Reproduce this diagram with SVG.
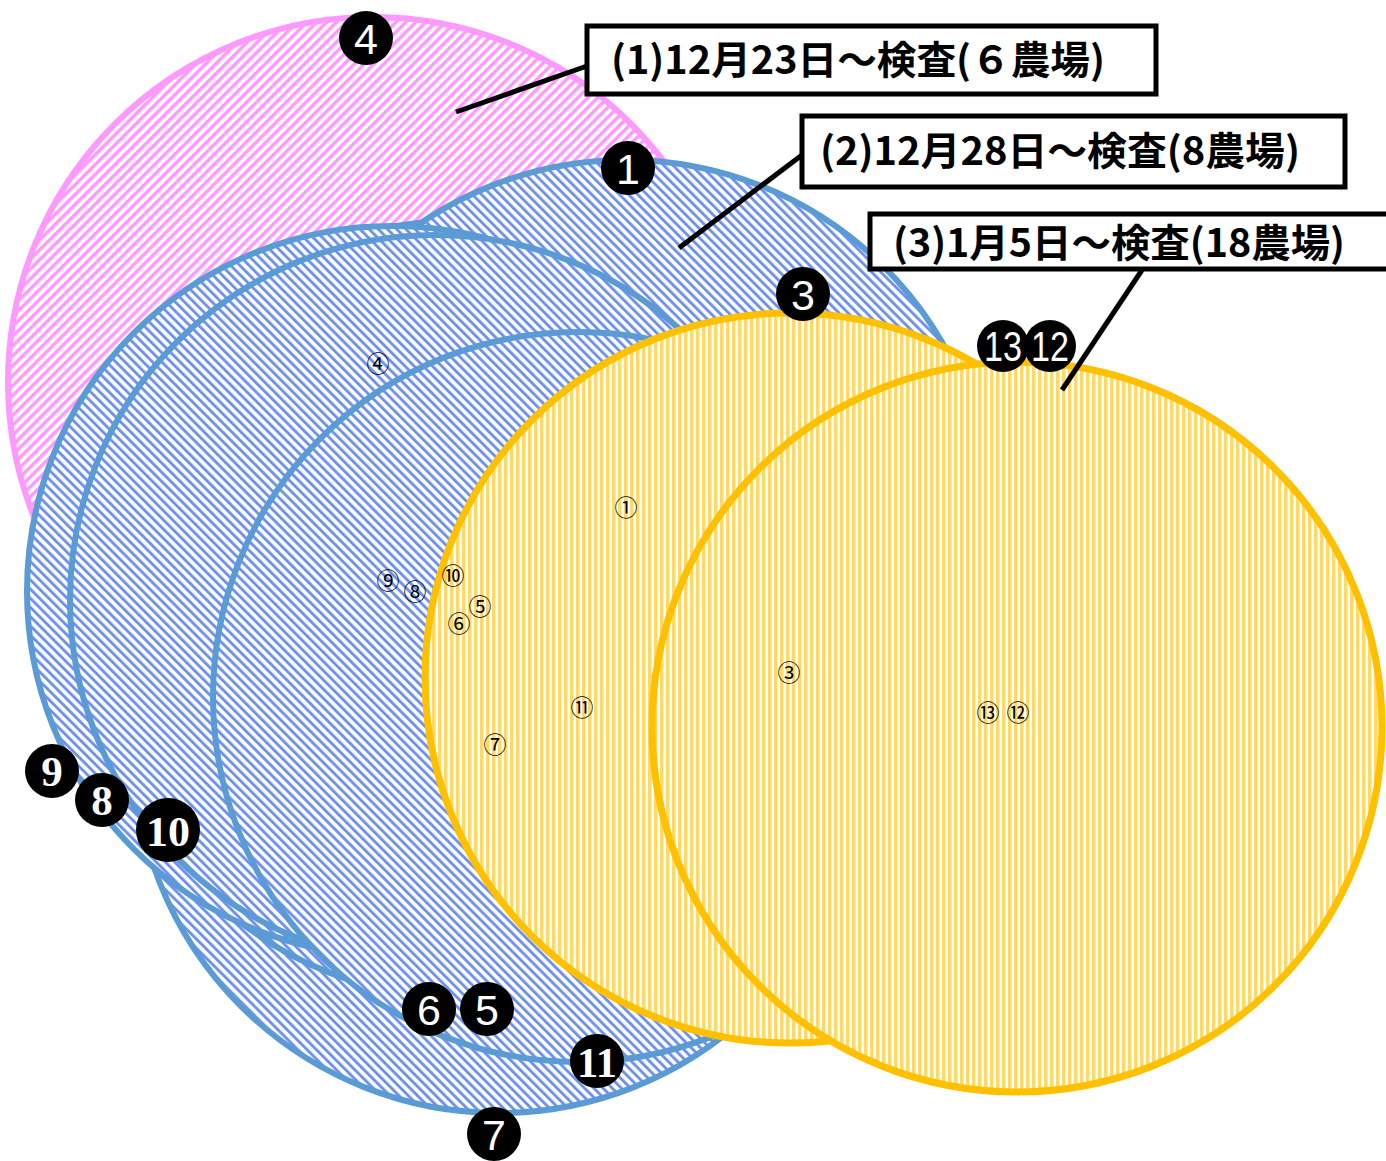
<svg xmlns="http://www.w3.org/2000/svg" width="1386" height="1161" viewBox="0 0 1386 1161">
<style>
.pk{fill:url(#hp);stroke:#FF99FF;stroke-width:6}
.bl{fill:url(#hb);stroke:#5B9BD5;stroke-width:6}
.yl{fill:url(#hy);stroke:#FFC000;stroke-width:7}
.badge circle{fill:#000}
.badge text{fill:#fff;font-family:"Liberation Sans",sans-serif;font-size:43px;text-anchor:middle}
.badge text.sf{font-family:"Liberation Serif",serif;font-weight:bold}
.farm{font-family:"Noto Sans CJK JP",sans-serif;font-size:23px;fill:#000;text-anchor:middle}
.box rect{fill:#fff;stroke:#000;stroke-width:5}
.box text{font-family:"Noto Sans CJK JP",sans-serif;font-weight:bold;font-size:39px;fill:#000}
.lead line{stroke:#000;stroke-width:5}
</style>
<defs>
<pattern id="hp" width="7" height="7" patternUnits="userSpaceOnUse" patternTransform="rotate(45)"><rect width="7" height="7" fill="#fff"/><rect width="3.5" height="7" fill="#FF99FF"/></pattern>
<pattern id="hb" width="6.5" height="6.5" patternUnits="userSpaceOnUse" patternTransform="rotate(-45)"><rect width="6.5" height="6.5" fill="#fff"/><rect width="2.9" height="6.5" fill="#6F92F2"/></pattern>
<pattern id="hy" width="6" height="6" patternUnits="userSpaceOnUse"><rect width="6" height="6" fill="#fff"/><rect width="3.5" height="6" fill="#FFD966"/></pattern>
</defs>
<g id="zone-4"><circle class="pk" cx="373" cy="382" r="365"/></g>
<g id="zone-7"><circle class="bl" cx="499" cy="748" r="365"/></g>
<g id="zone-10"><circle class="bl" cx="457" cy="586" r="365"/></g>
<g id="zone-6"><circle class="bl" cx="463" cy="633" r="365"/></g>
<g id="zone-5"><circle class="bl" cx="483" cy="618" r="365"/></g>
<g id="zone-1"><circle class="bl" cx="626" cy="525" r="365"/></g>
<g id="zone-9"><circle class="bl" cx="392" cy="591" r="365"/></g>
<g id="zone-8"><circle class="bl" cx="435" cy="600" r="365"/></g>
<g id="zone-11"><circle class="bl" cx="578" cy="697" r="365"/></g>
<g id="zone-3"><circle class="yl" cx="790" cy="678" r="365"/></g>
<g id="zone-12-13"><circle class="yl" cx="1017" cy="727" r="365"/></g>
<g id="farms">
<text class="farm" x="378" y="372">④</text>
<text class="farm" x="626" y="516">①</text>
<text class="farm" x="388" y="589">⑨</text>
<text class="farm" x="415" y="600">⑧</text>
<text class="farm" x="453" y="584">⑩</text>
<text class="farm" x="480" y="615">⑤</text>
<text class="farm" x="459" y="632">⑥</text>
<text class="farm" x="582" y="716">⑪</text>
<text class="farm" x="495" y="753">⑦</text>
<text class="farm" x="789" y="681">③</text>
<text class="farm" x="988" y="721">⑬</text>
<text class="farm" x="1018" y="721">⑫</text>
</g>
<g id="connectors" class="lead">
<line x1="587" y1="66" x2="456" y2="112"/>
<line x1="802" y1="155" x2="679" y2="248"/>
<line x1="1142" y1="270" x2="1062" y2="390"/>
</g>
<g id="badge-4" class="badge"><circle cx="366" cy="38" r="27"/><text x="366" y="54">4</text></g>
<g id="badge-1" class="badge"><circle cx="628" cy="168" r="27"/><text x="628" y="184">1</text></g>
<g id="badge-3" class="badge"><circle cx="803" cy="294" r="27"/><text x="803" y="310">3</text></g>
<g id="badge-13" class="badge"><circle cx="1003" cy="346" r="26"/><text x="1003" y="361" font-size="39" textLength="38" lengthAdjust="spacingAndGlyphs">13</text></g>
<g id="badge-12" class="badge"><circle cx="1050" cy="346" r="26"/><text x="1050" y="361" font-size="39" textLength="38" lengthAdjust="spacingAndGlyphs">12</text></g>
<g id="badge-9" class="badge"><circle cx="52" cy="771" r="27"/><text class="sf" x="52" y="786">9</text></g>
<g id="badge-8" class="badge"><circle cx="102" cy="800" r="27"/><text class="sf" x="102" y="815">8</text></g>
<g id="badge-10" class="badge"><circle cx="168" cy="830" r="32"/><text class="sf" x="168" y="846" textLength="44" lengthAdjust="spacingAndGlyphs">10</text></g>
<g id="badge-6" class="badge"><circle cx="429" cy="1009" r="27"/><text x="429" y="1025">6</text></g>
<g id="badge-5" class="badge"><circle cx="487" cy="1009" r="27"/><text x="487" y="1025">5</text></g>
<g id="badge-11" class="badge"><circle cx="597" cy="1061" r="27"/><text class="sf" x="597" y="1077" textLength="40" lengthAdjust="spacingAndGlyphs">11</text></g>
<g id="badge-7" class="badge"><circle cx="494" cy="1134" r="27"/><text x="494" y="1150">7</text></g>
<g id="label-1" class="box"><rect x="587" y="26" width="569" height="68"/><text x="611" y="74" textLength="494" lengthAdjust="spacingAndGlyphs">(1)12月23日～検査(６農場)</text></g>
<g id="label-2" class="box"><rect x="802" y="116" width="543" height="71"/><text x="820" y="165" textLength="480" lengthAdjust="spacingAndGlyphs">(2)12月28日～検査(8農場)</text></g>
<g id="label-3" class="box"><rect x="870" y="214" width="520" height="55"/><text x="893" y="257" textLength="452" lengthAdjust="spacingAndGlyphs">(3)1月5日～検査(18農場)</text></g>
</svg>
